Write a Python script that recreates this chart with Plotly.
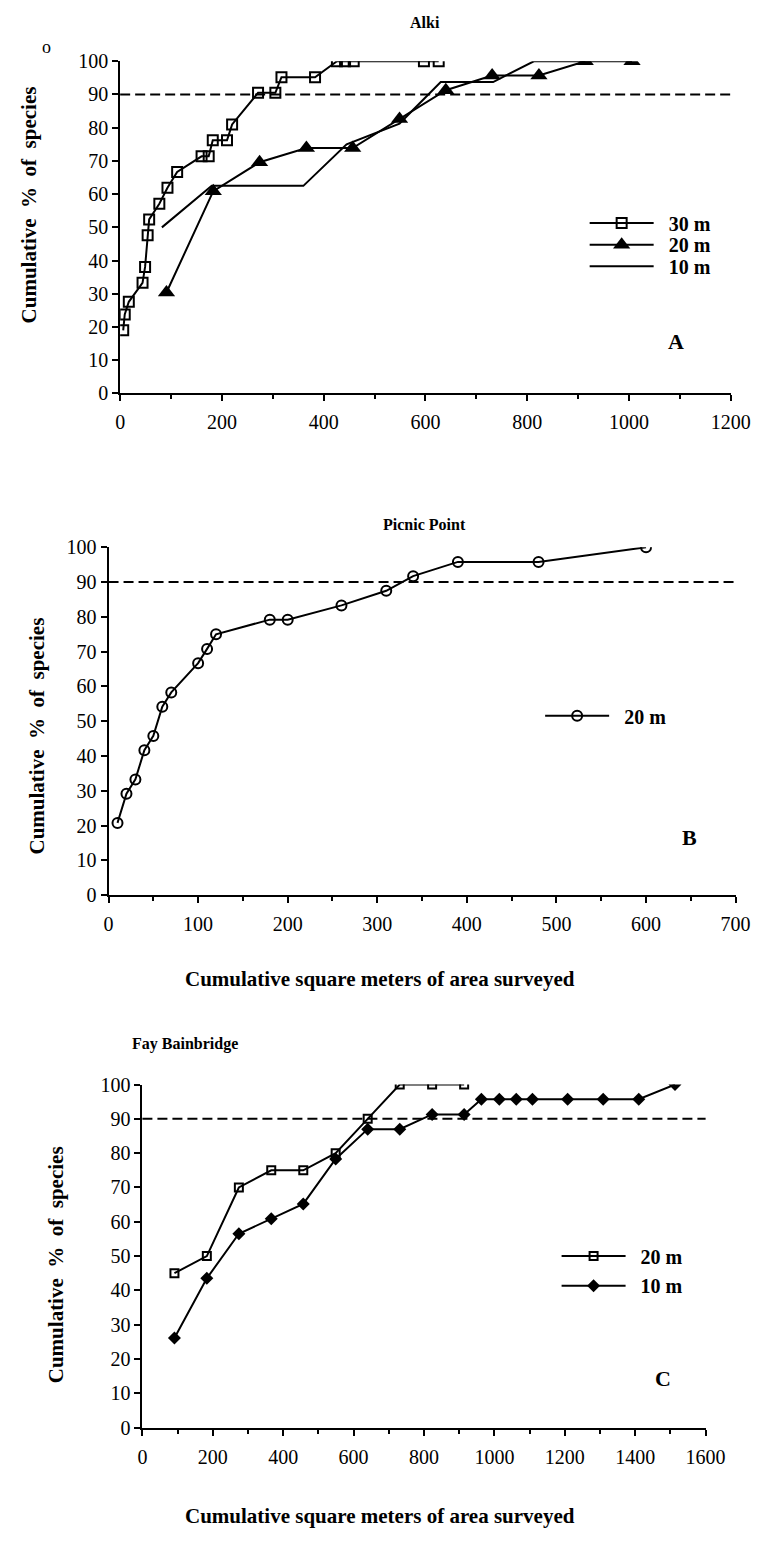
import plotly.graph_objects as go

W, H = 774, 1549

# ---------------- data ----------------
alki_30_x = [6, 9, 17, 44, 49, 54, 57, 77, 93, 112, 160, 174, 182, 210, 220, 271, 305, 317, 383, 426, 442, 459, 597, 626]
alki_30_y = [19.0, 23.8, 27.6, 33.3, 38.1, 47.6, 52.4, 57.1, 61.9, 66.7, 71.4, 71.4, 76.2, 76.2, 81.0, 90.5, 90.5, 95.2, 95.2, 100, 100, 100, 100, 100]
alki_20_x = [91, 183, 274, 366, 457, 549, 640, 731, 823, 914, 1006]
alki_20_y = [30.4, 60.9, 69.6, 73.9, 73.9, 82.6, 91.3, 95.7, 95.7, 100, 100]
alki_10_x = [82, 180, 360, 445, 549, 630, 733, 813, 914]
alki_10_y = [50, 62.5, 62.5, 75, 81.25, 93.75, 93.75, 100, 100]

picnic_20_x = [10, 20, 30, 40, 50, 60, 70, 100, 110, 120, 180, 200, 260, 310, 340, 390, 480, 600]
picnic_20_y = [20.8, 29.2, 33.3, 41.7, 45.8, 54.2, 58.3, 66.7, 70.8, 75.0, 79.2, 79.2, 83.3, 87.5, 91.7, 95.8, 95.8, 100]

fay_20_x = [91, 183, 274, 366, 457, 549, 640, 731, 823, 914]
fay_20_y = [45, 50, 70, 75, 75, 80, 90, 100, 100, 100]
fay_10_x = [91, 183, 274, 366, 457, 549, 640, 731, 823, 914, 963, 1014, 1062, 1108, 1208, 1309, 1410, 1513]
fay_10_y = [26.1, 43.5, 56.5, 60.9, 65.2, 78.3, 87.0, 87.0, 91.3, 91.3, 95.7, 95.7, 95.7, 95.7, 95.7, 95.7, 95.7, 100]

threshold = 90
titles = ["Alki", "Picnic Point", "Fay Bainbridge"]
panel_letters = ["A", "B", "C"]
NB = "\u00a0"
y_title = "Cumulative" + NB * 2 + "%" + NB * 2 + "of" + NB * 2 + "species"
x_title = "Cumulative square meters of area surveyed"

SERIF = "Liberation Serif, Times New Roman, serif"
BLACK = "black"

def px_x(p):
    return p / W

def px_y(p):
    return 1 - p / H

fig = go.Figure()

fig.add_trace(go.Scatter(x=alki_30_x, y=alki_30_y, name=NB * 2 + "30 m", mode="lines+markers",
                         line=dict(color=BLACK, width=2),
                         marker=dict(symbol="square-open", size=10, color=BLACK, line=dict(width=2)),
                         xaxis="x", yaxis="y", legend="legend"))
fig.add_trace(go.Scatter(x=alki_20_x, y=alki_20_y, name=NB * 2 + "20 m", mode="lines+markers",
                         line=dict(color=BLACK, width=2),
                         marker=dict(symbol="triangle-up", size=15, color=BLACK),
                         xaxis="x", yaxis="y", legend="legend2"))
fig.add_trace(go.Scatter(x=alki_10_x, y=alki_10_y, name=NB * 2 + "10 m", mode="lines",
                         line=dict(color=BLACK, width=2),
                         xaxis="x", yaxis="y", legend="legend3"))
fig.add_trace(go.Scatter(x=picnic_20_x, y=picnic_20_y, name=NB * 2 + "20 m", mode="lines+markers",
                         line=dict(color=BLACK, width=2),
                         marker=dict(symbol="circle-open", size=10, color=BLACK, line=dict(width=2)),
                         xaxis="x2", yaxis="y2", legend="legend4"))
fig.add_trace(go.Scatter(x=fay_20_x, y=fay_20_y, name=NB * 2 + "20 m", mode="lines+markers",
                         line=dict(color=BLACK, width=2),
                         marker=dict(symbol="square-open", size=8, color=BLACK, line=dict(width=2)),
                         xaxis="x3", yaxis="y3", legend="legend5"))
fig.add_trace(go.Scatter(x=fay_10_x, y=fay_10_y, name=NB * 2 + "10 m", mode="lines+markers",
                         line=dict(color=BLACK, width=2),
                         marker=dict(symbol="diamond", size=10, color=BLACK),
                         xaxis="x3", yaxis="y3", legend="legend6"))

panels = [
    dict(x0=119, x1=750, y0=51, y1=388, xr=[0, 1200], dt=200, mdt=100),
    dict(x0=107, x1=755, y0=544, y1=897, xr=[0, 700], dt=100, mdt=50),
    dict(x0=142, x1=724, y0=1089, y1=1437, xr=[0, 1600], dt=200, mdt=100),
]

tickfont = dict(family=SERIF, size=20, color=BLACK)
layout = dict(
    width=W, height=H, margin=dict(l=0, r=0, t=0, b=0),
    paper_bgcolor="white", plot_bgcolor="white",
    font=dict(family=SERIF, color=BLACK),
    showlegend=True,
)
for i, p in enumerate(panels):
    sx = "" if i == 0 else str(i + 1)
    layout["xaxis" + sx] = dict(
        domain=[px_x(p["x0"]), px_x(p["x1"])], range=p["xr"], anchor="y" + sx,
        showline=True, linecolor=BLACK, linewidth=2, showgrid=False, zeroline=False,
        ticks="outside", ticklen=6, tickwidth=1.5, tickcolor=BLACK, dtick=p["dt"], tick0=0,
        minor=dict(dtick=p["mdt"], ticks="outside", ticklen=4, tickwidth=1.5, tickcolor=BLACK, showgrid=False),
        tickfont=tickfont, ticklabelstandoff=4, fixedrange=True,
    )
    layout["yaxis" + sx] = dict(
        domain=[px_y(p["y1"]), px_y(p["y0"])], range=[0, 100], anchor="x" + sx,
        showline=True, linecolor=BLACK, linewidth=2, showgrid=False, zeroline=False,
        ticks="outside", ticklen=6, tickwidth=1.5, tickcolor=BLACK, dtick=10, tick0=0,
        tickfont=tickfont, fixedrange=True,
    )

legfont = dict(family=SERIF, size=20, color=BLACK, weight="bold")
# one legend per entry: (left x of line, row centre y)
legend_pos = [(599, 215), (599, 237), (599, 259), (553, 715), (570, 1263), (570, 1293)]
for k, (lx, ly) in enumerate(legend_pos):
    key = "legend" if k == 0 else "legend%d" % (k + 1)
    layout[key] = dict(x=px_x(lx), y=px_y(ly), xanchor="left", yanchor="middle",
                       font=legfont, itemwidth=64, bgcolor="rgba(0,0,0,0)")

fig.update_layout(**layout)

for i in range(3):
    sx = "" if i == 0 else str(i + 1)
    fig.add_shape(type="line", xref=("x" + sx) + " domain", yref="y" + sx,
                  x0=0, x1=1, y0=threshold, y1=threshold,
                  line=dict(color=BLACK, width=2, dash="10px,5px"))

anns = []
def ann(text, x, y, size, angle=0):
    anns.append(dict(text=text, x=px_x(x), y=px_y(y), xref="paper", yref="paper",
                     xanchor="center", yanchor="middle", showarrow=False, textangle=angle,
                     font=dict(family=SERIF, size=size, color=BLACK)))

title_pos = [(434, 12), (433, 521), (186, 1048)]
for t, (x, y) in zip(titles, title_pos):
    ann("<b>%s</b>" % t, x, y, 16)
letter_pos = [(693, 335), (707, 838), (680, 1387)]
for t, (x, y) in zip(panel_letters, letter_pos):
    ann("<b>%s</b>" % t, x, y, 22)
ytitle_pos = [(25, 197), (33, 735), (53, 1272)]
for (x, y) in ytitle_pos:
    ann("<b>%s</b>" % y_title, x, y, 21, -90)
xtitle_pos = [(388, 982), (388, 1527)]
for (x, y) in xtitle_pos:
    ann("<b>%s</b>" % x_title, x, y, 21)
ann("o", 43, 37, 18)
fig.update_layout(annotations=anns)

fig.write_html("out.html")
